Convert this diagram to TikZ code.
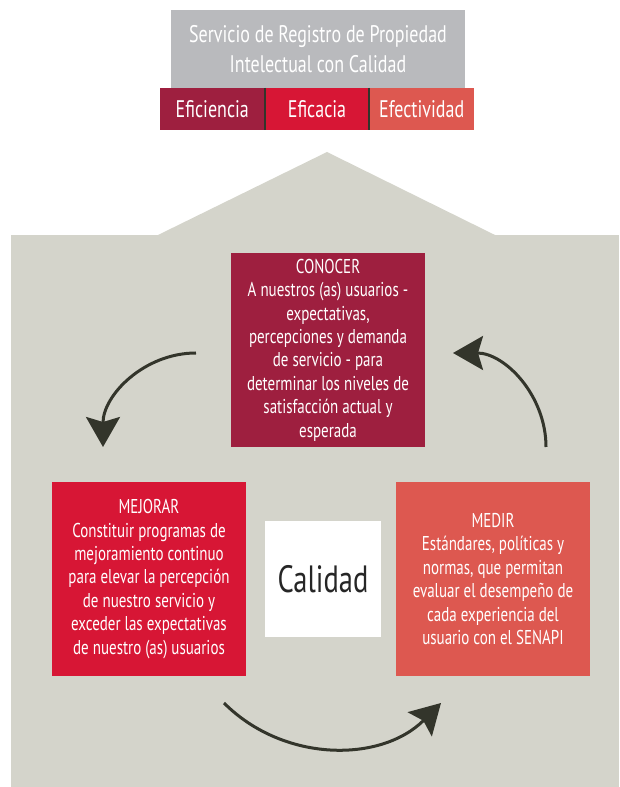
\documentclass[tikz,border=0pt]{standalone}
\usepackage{fontspec}
\setmainfont[FakeStretch=0.75]{PT Sans}
\usetikzlibrary{arrows.meta,positioning}
\definecolor{titlegray}{HTML}{B9BABD}
\definecolor{vino}{HTML}{9E1F3F}
\definecolor{rojo}{HTML}{D71635}
\definecolor{coral}{HTML}{DD5850}
\definecolor{casa}{HTML}{D4D4CB}
\definecolor{flecha}{HTML}{33352B}

\begin{document}
\begin{tikzpicture}[
        x=1pt, y=1pt,
        every node/.style={inner sep=0pt, outer sep=0pt, text=white, align=center, font=\fontsize{20}{23.4}\selectfont},
        cell/.style={minimum width=104.7pt, minimum height=42pt, font=\fontsize{24}{28}\selectfont},
        square/.style={minimum width=194pt, minimum height=194pt},
        ciclo/.style={line width=3pt, flecha, -{Stealth[length=30pt, width=34pt, inset=5pt]}}
    ]
    \useasboundingbox (0,0) rectangle (619,787);
    % casa
    \fill[casa] (11,0) rectangle (619,552);
    \fill[casa] (158,552) -- (327,635) -- (495,552) -- cycle;
    \node[fill=titlegray, minimum width=294pt, minimum height=78pt, font=\fontsize{24}{30}\selectfont] (titulo) at (318,738) {Servicio de Registro de Propiedad\\Intelectual con Calidad};
    \node[cell, fill=vino] (eficiencia) at (212.3,678) {Eficiencia};
    \node[cell, fill=rojo, right=0pt of eficiencia] (eficacia) {Eficacia};
    \node[cell, fill=coral, right=0pt of eficacia] (efectividad) {Efectividad};
    \draw[flecha, line width=2pt] (eficiencia.north east) -- (eficiencia.south east);
    \draw[flecha, line width=2pt] (eficacia.north east) -- (eficacia.south east);
    % ciclo
    \node[square, fill=vino] (conocer) at (328,437) {CONOCER\\A nuestros (as) usuarios -\\expectativas,\\percepciones y demanda\\de servicio - para\\determinar los niveles de\\satisfacción actual y\\esperada};
    \node[square, fill=rojo] (mejorar) at (149,208) {MEJORAR\\Constituir programas de\\mejoramiento continuo\\para elevar la percepción\\de nuestro servicio y\\exceder las expectativas\\de nuestro (as) usuarios};
    \node[square, fill=coral] (medir) at (493,208) {MEDIR\\Estándares, políticas y\\normas, que permitan\\evaluar el desempeño de\\cada experiencia del\\usuario con el SENAPI};
    \node[fill=white, minimum size=116pt, text=black!85, font=\fontsize{38}{44}\selectfont] (calidad) at (323,208) {Calidad};
    \coordinate (a1) at (196,434);
    \coordinate (b1) at (103,340);
    \coordinate (a2) at (546,340);
    \coordinate (b2) at (453,434);
    \coordinate (a3) at (224,84);
    \coordinate (b3) at (441,84);
    \draw[ciclo] (a1) to[out=180, in=90] (b1);
    \draw[ciclo] (a2) to[out=90, in=0] (b2);
    \draw[ciclo] (a3) to[out=-45, in=-135] (b3);
\end{tikzpicture}
\end{document}
